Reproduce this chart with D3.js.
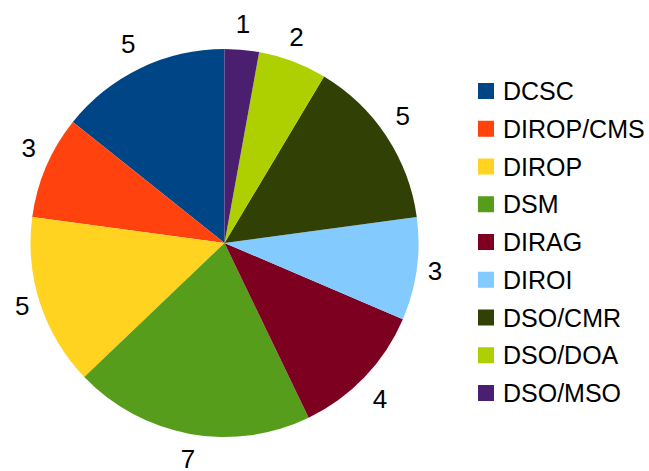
<!DOCTYPE html>
<html>
<head>
<meta charset="utf-8">
<script src="https://cdn.jsdelivr.net/npm/d3@7"></script>
<style>
  html, body { margin: 0; padding: 0; background: #fff; }
  svg { display: block; font-family: "Liberation Sans", Arial, sans-serif; }
</style>
</head>
<body>
<svg id="chart" width="649" height="471"></svg>
<script>
// Departments and their counts
const categories = ["DCSC", "DIROP/CMS", "DIROP", "DSM", "DIRAG", "DIROI", "DSO/CMR", "DSO/DOA", "DSO/MSO"];
const values = [5, 3, 5, 7, 4, 3, 5, 2, 1];
const colors = ["#004586", "#ff420e", "#ffd320", "#579d1c", "#7e0021", "#83caff", "#314004", "#aecf00", "#4b1f6f"];

const svg = d3.select("#chart");
const cx = 224.5, cy = 243, radius = 194;

const data = categories.map((c, i) => ({ name: c, value: values[i], color: colors[i] }));

// Slices run counter-clockwise from 12 o'clock in legend order
const pie = d3.pie().sort(null).value(d => d.value)
  .startAngle(0).endAngle(-2 * Math.PI);
const arc = d3.arc().innerRadius(0).outerRadius(radius);

const g = svg.append("g").attr("transform", `translate(${cx},${cy})`);
const arcs = pie(data);

g.selectAll("path.slice")
  .data(arcs)
  .join("path")
  .attr("class", "slice")
  .attr("d", arc)
  .attr("fill", d => d.data.color);

// Value labels: anchored just outside the rim, the text box is placed on the
// side of the anchor that faces away from the centre (8 compass sectors).
const labelSize = 26;
const anchorR = radius + 11;
const ASC = 0.905, DESC = 0.212;

function alignFor(bearing) {
  // bearing: radians clockwise from 12 o'clock -> math angle in degrees
  let t = 90 - bearing * 180 / Math.PI;
  t = ((t % 360) + 360) % 360;
  if (t <= 22.5) return ["right", "mid"];
  if (t < 67.5) return ["right", "top"];
  if (t < 112.5) return ["center", "top"];
  if (t <= 157.5) return ["left", "top"];
  if (t <= 202.5) return ["left", "mid"];
  if (t < 247.5) return ["left", "bottom"];
  if (t < 292.5) return ["center", "bottom"];
  if (t < 337.5) return ["right", "bottom"];
  return ["right", "mid"];
}

g.selectAll("text.val")
  .data(arcs)
  .join("text")
  .attr("class", "val")
  .each(function(d) {
    let a = (d.startAngle + d.endAngle) / 2;
    const ax = anchorR * Math.sin(a), ay = -anchorR * Math.cos(a);
    const [h, v] = alignFor(a);
    const f = labelSize;
    let baseline;
    if (v === "top") baseline = ay - DESC * f;
    else if (v === "bottom") baseline = ay + ASC * f;
    else baseline = ay + (ASC - (ASC + DESC) / 2) * f;
    d3.select(this)
      .attr("x", ax)
      .attr("y", baseline)
      .attr("text-anchor", h === "right" ? "start" : h === "left" ? "end" : "middle")
      .attr("font-size", f)
      .attr("fill", "#000")
      .text(d.data.value);
  });

// Legend
const legendSize = 25;
const legend = svg.append("g").attr("transform", "translate(478,91)");
const rowH = 37.75;
const rows = legend.selectAll("g.row")
  .data(data)
  .join("g")
  .attr("class", "row")
  .attr("transform", (d, i) => `translate(0,${i * rowH})`);

rows.append("rect")
  .attr("x", 0).attr("y", -8)
  .attr("width", 16).attr("height", 16)
  .attr("fill", d => d.color);

rows.append("text")
  .attr("x", 25).attr("y", 0)
  .attr("dominant-baseline", "central")
  .attr("font-size", legendSize)
  .attr("fill", "#000")
  .text(d => d.name);
</script>
</body>
</html>
